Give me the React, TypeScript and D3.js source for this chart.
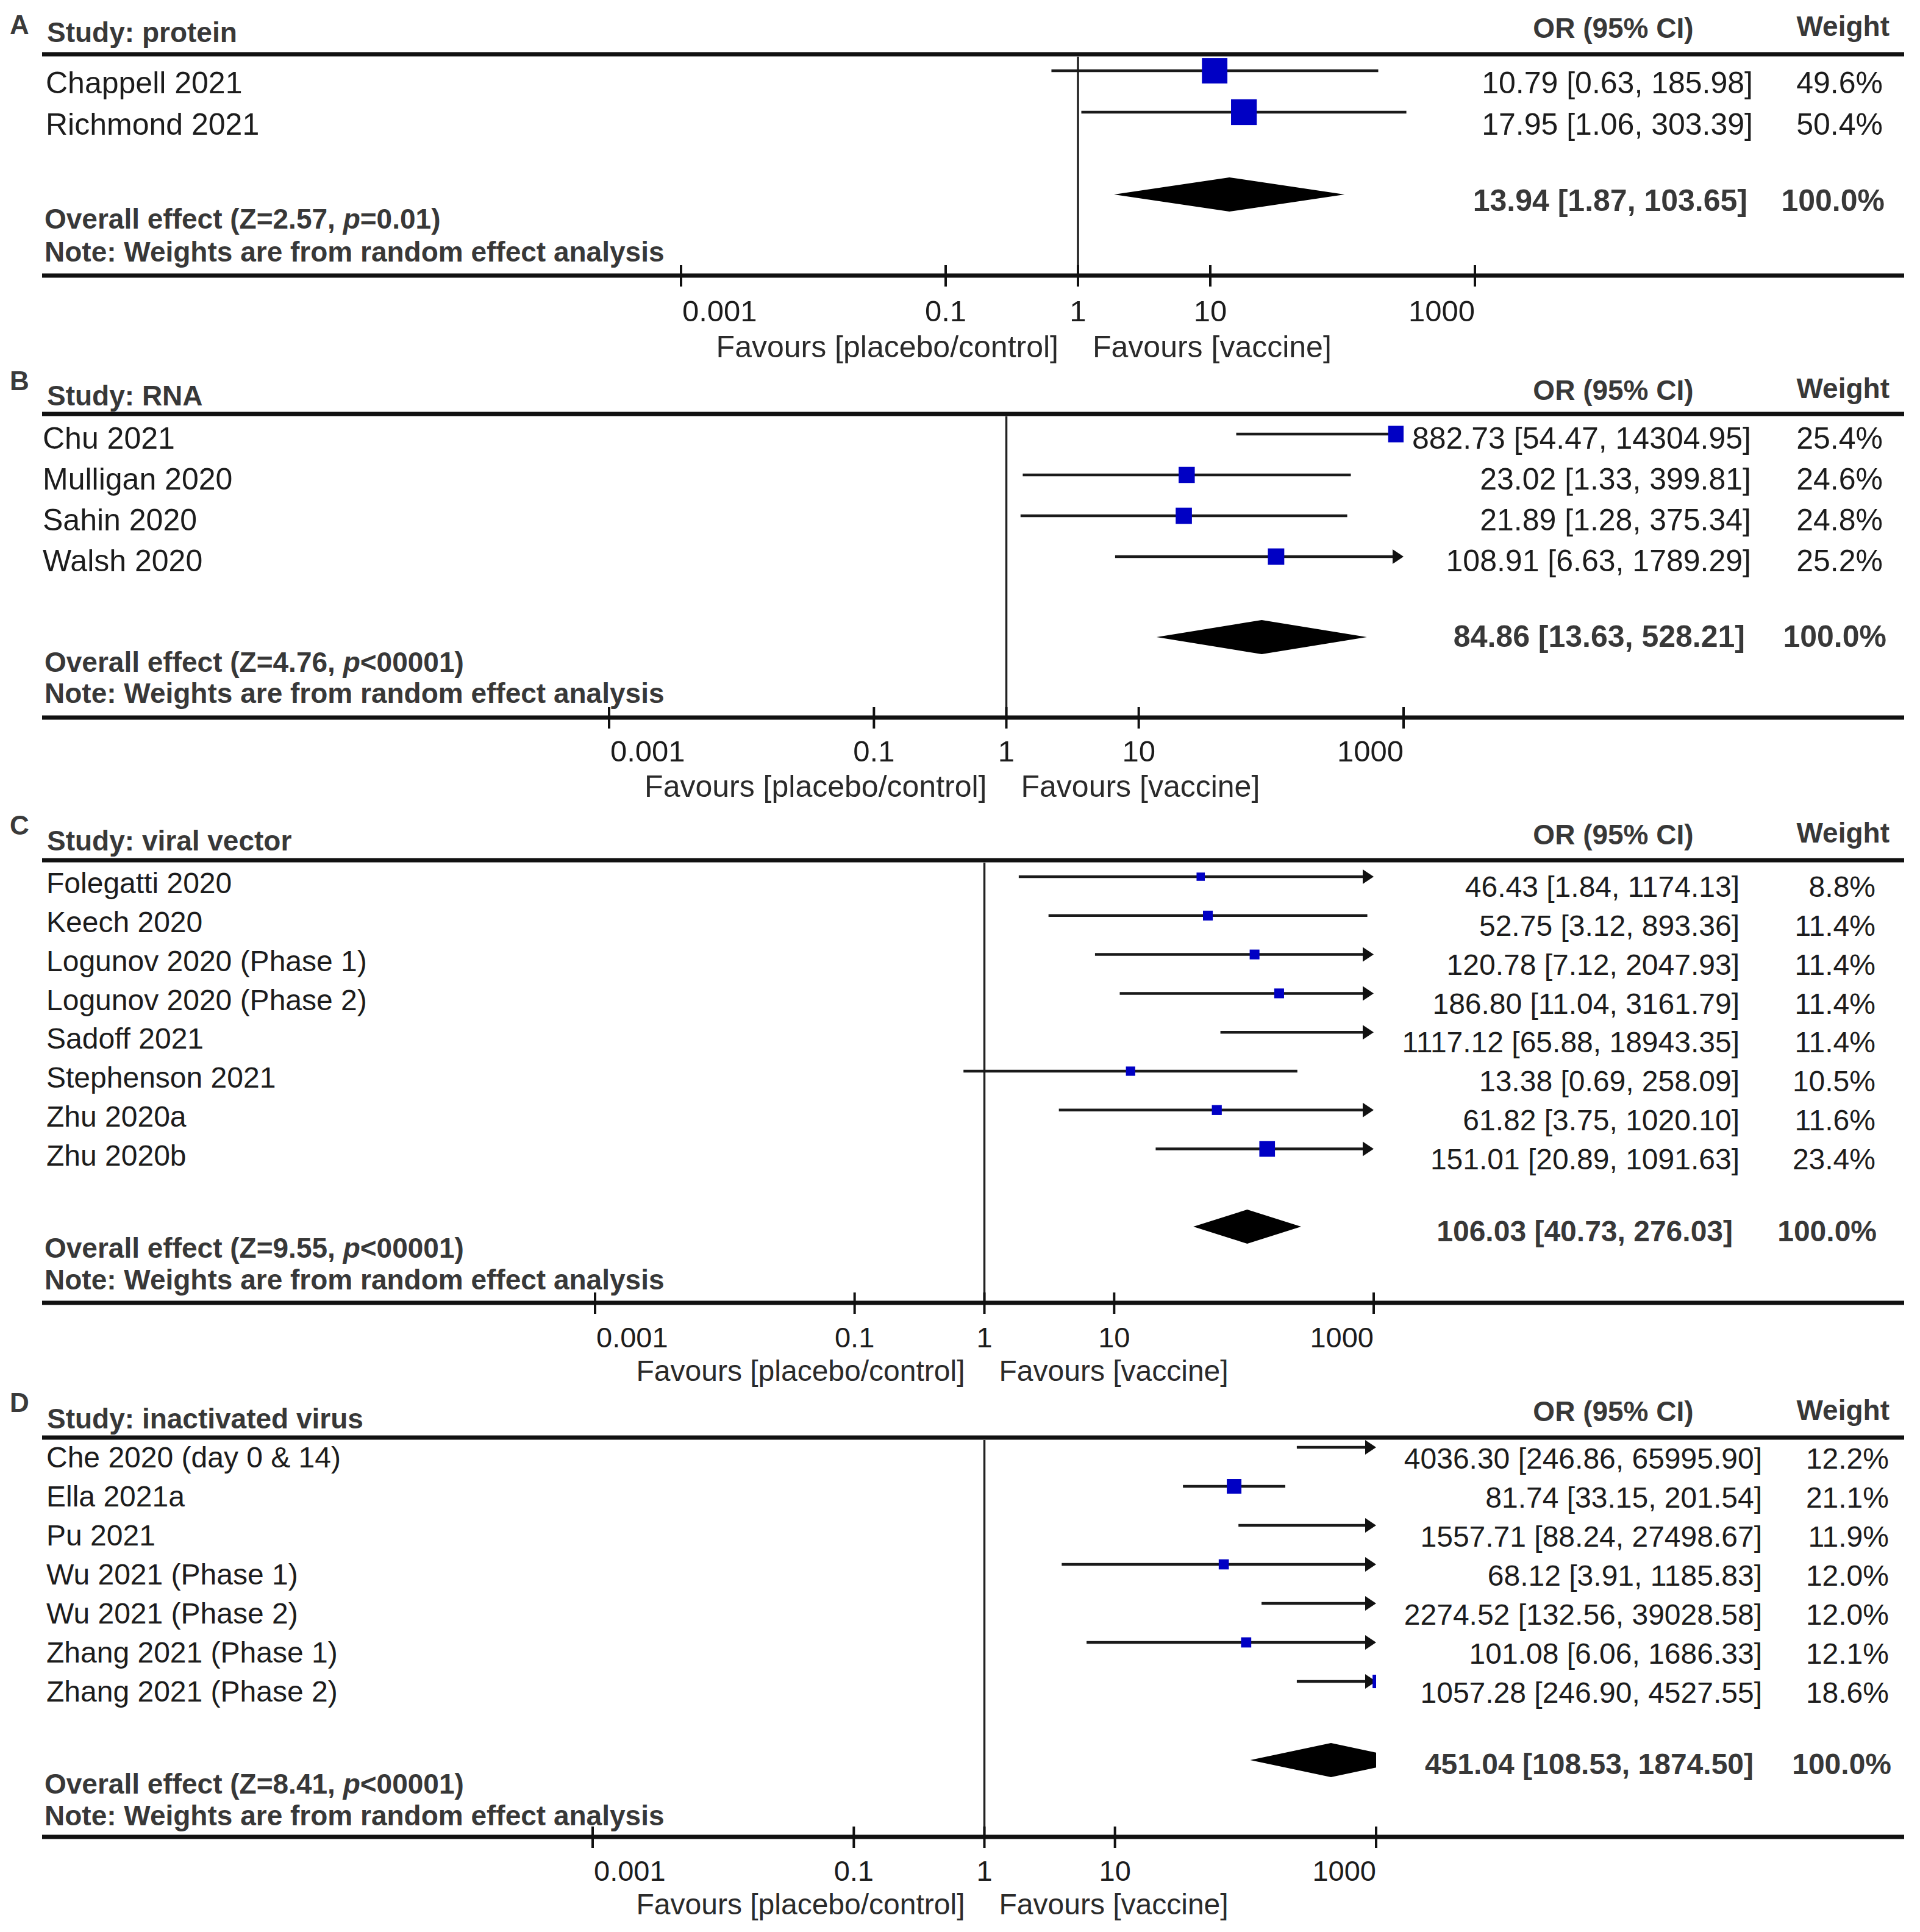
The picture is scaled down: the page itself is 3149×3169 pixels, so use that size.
import React from "react";
import * as d3 from "d3";

// ---------- DATA ----------
const panelLetters = ["A", "B", "C", "D"];
const panelTitles = ["Study: protein", "Study: RNA", "Study: viral vector", "Study: inactivated virus"];

const proteinRows = [
  { study: "Chappell 2021", or: 10.79, lo: 0.63, hi: 185.98, weight: 49.6 },
  { study: "Richmond 2021", or: 17.95, lo: 1.06, hi: 303.39, weight: 50.4 },
];
const rnaRows = [
  { study: "Chu 2021", or: 882.73, lo: 54.47, hi: 14304.95, weight: 25.4 },
  { study: "Mulligan 2020", or: 23.02, lo: 1.33, hi: 399.81, weight: 24.6 },
  { study: "Sahin 2020", or: 21.89, lo: 1.28, hi: 375.34, weight: 24.8 },
  { study: "Walsh 2020", or: 108.91, lo: 6.63, hi: 1789.29, weight: 25.2 },
];
const viralRows = [
  { study: "Folegatti 2020", or: 46.43, lo: 1.84, hi: 1174.13, weight: 8.8 },
  { study: "Keech 2020", or: 52.75, lo: 3.12, hi: 893.36, weight: 11.4 },
  { study: "Logunov 2020 (Phase 1)", or: 120.78, lo: 7.12, hi: 2047.93, weight: 11.4 },
  { study: "Logunov 2020 (Phase 2)", or: 186.8, lo: 11.04, hi: 3161.79, weight: 11.4 },
  { study: "Sadoff 2021", or: 1117.12, lo: 65.88, hi: 18943.35, weight: 11.4 },
  { study: "Stephenson 2021", or: 13.38, lo: 0.69, hi: 258.09, weight: 10.5 },
  { study: "Zhu 2020a", or: 61.82, lo: 3.75, hi: 1020.1, weight: 11.6 },
  { study: "Zhu 2020b", or: 151.01, lo: 20.89, hi: 1091.63, weight: 23.4 },
];
const inactivatedRows = [
  { study: "Che 2020 (day 0 & 14)", or: 4036.3, lo: 246.86, hi: 65995.9, weight: 12.2 },
  { study: "Ella 2021a", or: 81.74, lo: 33.15, hi: 201.54, weight: 21.1 },
  { study: "Pu 2021", or: 1557.71, lo: 88.24, hi: 27498.67, weight: 11.9 },
  { study: "Wu 2021 (Phase 1)", or: 68.12, lo: 3.91, hi: 1185.83, weight: 12.0 },
  { study: "Wu 2021 (Phase 2)", or: 2274.52, lo: 132.56, hi: 39028.58, weight: 12.0 },
  { study: "Zhang 2021 (Phase 1)", or: 101.08, lo: 6.06, hi: 1686.33, weight: 12.1 },
  { study: "Zhang 2021 (Phase 2)", or: 1057.28, lo: 246.9, hi: 4527.55, weight: 18.6 },
];

const overallOR = [13.94, 84.86, 106.03, 451.04];
const overallLo = [1.87, 13.63, 40.73, 108.53];
const overallHi = [103.65, 528.21, 276.03, 1874.5];
const overallZ = [2.57, 4.76, 9.55, 8.41];
const overallP = ["=0.01", "<00001", "<00001", "<00001"];

const tickValues = [0.001, 0.1, 1, 10, 1000];
const tickLabels = ["0.001", "0.1", "1", "10", "1000"];

const allRows = [proteinRows, rnaRows, viralRows, inactivatedRows];

// ---------- LAYOUT ----------
const layouts = [
  { x0: 1117, x1: 2419, fs: 50, labelX: 75, letterY: 40, titleY: 52, orHeadY: 45, wHeadY: 42, headLineY: 89,
    rowY0: 116, rowStep: 68, labelOff: 19, valueOff: 19, diamondY: 319, sumY: 328, overallY: 358, noteY: 412,
    axisY: 452, tickY: 509, favY: 568, valRight: 2875, sumRight: 2866, wRight: 3088, sumWRight: 3091 },
  { x0: 999, x1: 2302, fs: 50, labelX: 70, letterY: 624, titleY: 648, orHeadY: 639, wHeadY: 636, headLineY: 679,
    rowY0: 712, rowStep: 67, labelOff: 6, valueOff: 6, diamondY: 1045, sumY: 1043, overallY: 1085, noteY: 1136,
    axisY: 1177, tickY: 1231, favY: 1289, valRight: 2872, sumRight: 2862, wRight: 3088, sumWRight: 3094 },
  { x0: 976, x1: 2253, fs: 48, labelX: 76, letterY: 1353, titleY: 1378, orHeadY: 1368, wHeadY: 1365, headLineY: 1411,
    rowY0: 1438, rowStep: 63.8, labelOff: 10, valueOff: 16, diamondY: 2012, sumY: 2019, overallY: 2046, noteY: 2098,
    axisY: 2137, tickY: 2193, favY: 2248, valRight: 2853, sumRight: 2842, wRight: 3076, sumWRight: 3078 },
  { x0: 972, x1: 2257, fs: 48, labelX: 76, letterY: 2300, titleY: 2326, orHeadY: 2314, wHeadY: 2312, headLineY: 2358,
    rowY0: 2374, rowStep: 64, labelOff: 16, valueOff: 18, diamondY: 2887, sumY: 2893, overallY: 2925, noteY: 2977,
    axisY: 3013, tickY: 3068, favY: 3123, valRight: 2890, sumRight: 2876, wRight: 3098, sumWRight: 3102 },
];

const FONT = "'Liberation Sans', Arial, Helvetica, sans-serif";
const LINE_L = 69;
const LINE_R = 3123;
const BLUE = "#0000c4";
const INK = "#1c1c1c";
const BOLDINK = "#383838";

const fmt2 = d3.format(".2f");
const fmt1 = d3.format(".1f");

function base(center: number, size: number) {
  return center + size * 0.36;
}

function Panel({ idx }: { idx: number }) {
  const L = layouts[idx];
  const rows = allRows[idx];
  const x = d3.scaleLog().domain([0.001, 1000]).range([L.x0, L.x1]);
  const xMax = x(1000);
  const xOne = x(1);
  const fs = L.fs;
  const hfs = 46;
  const clipId = `clip-${idx}`;
  const sqSize = (w: number) => 42 * Math.pow(w / 50, 0.65);

  const cy = L.diamondY;
  const h = 28;
  const dc = x(overallOR[idx]);
  const dl = x(overallLo[idx]);
  const dr = x(overallHi[idx]);
  let diamondPts: [number, number][];
  if (overallHi[idx] > 1000) {
    const t = (xMax - dc) / (dr - dc);
    const hh = h * (1 - t);
    diamondPts = [[dl, cy], [dc, cy - h], [xMax, cy - hh], [xMax, cy + hh], [dc, cy + h]];
  } else {
    diamondPts = [[dl, cy], [dc, cy - h], [dr, cy], [dc, cy + h]];
  }

  return (
    <g>
      <defs>
        <clipPath id={clipId}>
          <rect x={0} y={0} width={xMax} height={3169} />
        </clipPath>
      </defs>
      <text x={16} y={base(L.letterY, 44)} fontSize={44} fontWeight="bold" fill="#3a3a3a">{panelLetters[idx]}</text>
      <text x={77} y={base(L.titleY, hfs)} fontSize={hfs} fontWeight="bold" fill={BOLDINK}>{panelTitles[idx]}</text>
      <text x={2646} y={base(L.orHeadY, hfs)} fontSize={hfs} fontWeight="bold" fill={BOLDINK} textAnchor="middle">OR (95% CI)</text>
      <text x={3099} y={base(L.wHeadY, hfs)} fontSize={hfs} fontWeight="bold" fill={BOLDINK} textAnchor="end">Weight</text>
      <line x1={LINE_L} x2={LINE_R} y1={L.headLineY} y2={L.headLineY} stroke="#111" strokeWidth={7} />
      <line x1={xOne} x2={xOne} y1={L.headLineY + 4} y2={L.axisY} stroke="#222" strokeWidth={3.5} />
      {rows.map((r, i) => {
        const ly = L.rowY0 + i * L.rowStep;
        const xl = x(Math.max(r.lo, 0.001));
        const arrow = r.hi > 1000;
        const xh = arrow ? xMax : x(r.hi);
        const s = sqSize(r.weight);
        return (
          <g key={r.study}>
            <text x={L.labelX} y={base(ly + L.labelOff, fs)} fontSize={fs} fill={INK}>{r.study}</text>
            <line x1={xl} x2={arrow ? xMax - 12 : xh} y1={ly} y2={ly} stroke="#1a1a1a" strokeWidth={4.5} />
            {arrow && (
              <polygon points={`${xMax},${ly} ${xMax - 18},${ly - 12} ${xMax - 18},${ly + 12}`} fill="#111" />
            )}
            <rect x={x(r.or) - s / 2} y={ly - s / 2} width={s} height={s} fill={BLUE} clipPath={`url(#${clipId})`} />
            <text x={L.valRight} y={base(ly + L.valueOff, fs)} fontSize={fs} fill={INK} textAnchor="end">
              {`${fmt2(r.or)} [${fmt2(r.lo)}, ${fmt2(r.hi)}]`}
            </text>
            <text x={L.wRight} y={base(ly + L.valueOff, fs)} fontSize={fs} fill={INK} textAnchor="end">
              {`${fmt1(r.weight)}%`}
            </text>
          </g>
        );
      })}
      <polygon points={diamondPts.map((p) => p.join(",")).join(" ")} fill="#000" />
      <text x={L.sumRight} y={base(L.sumY, fs)} fontSize={fs} fontWeight="bold" fill={BOLDINK} textAnchor="end">
        {`${fmt2(overallOR[idx])} [${fmt2(overallLo[idx])}, ${fmt2(overallHi[idx])}]`}
      </text>
      <text x={L.sumWRight} y={base(L.sumY, fs)} fontSize={fs} fontWeight="bold" fill={BOLDINK} textAnchor="end">
        100.0%
      </text>
      <text x={73} y={base(L.overallY, hfs)} fontSize={hfs} fontWeight="bold" fill={BOLDINK}>
        <tspan>{`Overall effect (Z=${fmt2(overallZ[idx])}, `}</tspan>
        <tspan fontStyle="italic">p</tspan>
        <tspan>{`${overallP[idx]})`}</tspan>
      </text>
      <text x={73} y={base(L.noteY, hfs)} fontSize={hfs} fontWeight="bold" fill={BOLDINK}>
        Note: Weights are from random effect analysis
      </text>
      <line x1={LINE_L} x2={LINE_R} y1={L.axisY} y2={L.axisY} stroke="#111" strokeWidth={7} />
      {tickValues.map((t, i) => (
        <g key={t}>
          <line x1={x(t)} x2={x(t)} y1={L.axisY - 17} y2={L.axisY + 18} stroke="#111" strokeWidth={4} />
          <text
            x={x(t) + (i === 0 ? 2 : 0)}
            y={base(L.tickY, fs - 1)}
            fontSize={fs - 1}
            fill={INK}
            textAnchor={i === 0 ? "start" : i === tickValues.length - 1 ? "end" : "middle"}
          >
            {tickLabels[i]}
          </text>
        </g>
      ))}
      <text x={xOne - 32} y={base(L.favY, fs)} fontSize={fs} fill="#2a2a2a" textAnchor="end">
        Favours [placebo/control]
      </text>
      <text x={xOne + 24} y={base(L.favY, fs)} fontSize={fs} fill="#2a2a2a">
        Favours [vaccine]
      </text>
    </g>
  );
}

export default function App() {
  return (
    <svg
      width={3149}
      height={3169}
      viewBox="0 0 3149 3169"
      style={{ position: "absolute", left: 0, top: 0, background: "#fff" }}
      fontFamily={FONT}
    >
      <rect x={0} y={0} width={3149} height={3169} fill="#fff" />
      {[0, 1, 2, 3].map((i) => (
        <Panel key={i} idx={i} />
      ))}
    </svg>
  );
}
